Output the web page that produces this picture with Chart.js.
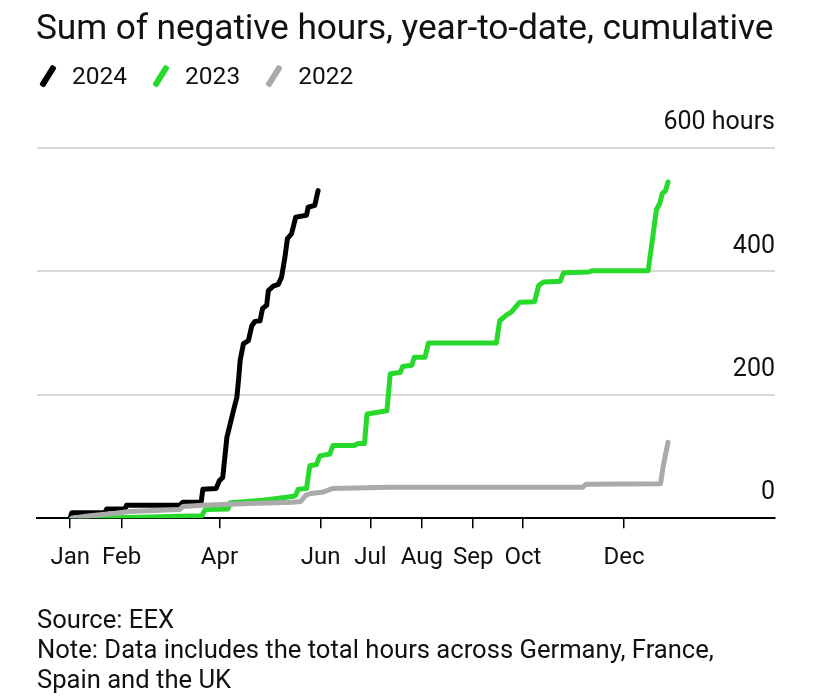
<!DOCTYPE html>
<html>
<head>
<meta charset="utf-8">
<script src="https://cdn.jsdelivr.net/npm/chart.js@4.4.1/dist/chart.umd.min.js"></script>
<style>
  html, body { margin: 0; padding: 0; background: #fff; }
  #wrap { position: relative; width: 816px; height: 700px; overflow: hidden; font-family: Roboto, "Liberation Sans", sans-serif; color: #111; }
  #chartBox { position: absolute; left: 0; top: 0; width: 816px; height: 700px; }
  #title { position: absolute; left: 36px; top: 6px; font-size: 35.3px; line-height: 42px; white-space: nowrap; letter-spacing: -0.1px; }
  #legend { position: absolute; left: 37px; top: 62px; display: flex; font-size: 24.5px; line-height: 28px; }
  .item { display: flex; align-items: center; margin-right: 23px; }
  .icon { width: 23px; height: 28px; position: relative; margin-right: 12px; }
  .icon span { position: absolute; left: 8px; top: 2px; width: 5.5px; height: 24px; border-radius: 2px; transform: rotate(32deg); }
  #footer { position: absolute; left: 37px; top: 604px; font-size: 25.6px; line-height: 30px; white-space: nowrap; }
</style>
</head>
<body>
<div id="wrap">
  <div id="chartBox"><canvas id="c"></canvas></div>
  <div id="title">Sum of negative hours, year-to-date, cumulative</div>
  <div id="legend"></div>
  <div id="footer">Source: EEX<br>Note: Data includes the total hours across Germany, France,<br>Spain and the UK</div>
</div>
<script>
// ---- data (day of year, cumulative negative hours) ----
const seriesNames = ['2024', '2023', '2022'];
const seriesColors = ['#000000', '#27d92b', '#aaaaaa'];

const days2024  = [0, 1, 21, 22, 33, 34, 66, 68, 79, 80, 88, 90, 92, 94.5, 96.5, 98.5, 100.5, 101.5, 102.5, 104.5, 107.5, 109.5, 111.5, 114.5, 116, 118.5, 119.5, 122.5, 125.5, 127.5, 129.5, 131, 133.5, 136, 142.5, 143.5, 147.5, 149.5];
const hours2024 = [0, 9, 9, 15, 15, 21, 21, 26, 26, 47, 48, 61, 66, 131, 153, 175, 196, 223, 256, 283, 288, 312, 319, 320, 340, 345, 369, 376, 379, 391, 423, 453, 461, 488, 491, 504, 507, 531];

const days2023  = [1, 36, 66, 79.5, 80.5, 81.5, 95, 96.5, 116, 134, 136, 137.5, 142.5, 144.5, 148.5, 150.5, 156.5, 158.5, 171.5, 173.5, 177.5, 179, 191, 193, 199, 200.5, 206, 207.5, 214, 216, 257, 259, 263, 266, 271, 280, 282.5, 285.5, 295.5, 297.5, 312.5, 314.5, 348.5, 350.5, 352.5, 353.5, 355.5, 357, 359, 360.5];
const hours2023 = [0, 1, 3, 4, 10, 14, 15, 25, 29, 35, 37, 47, 48, 85, 87, 101, 104, 118, 118, 121, 121, 169, 174, 234, 236, 246, 248, 261, 261, 284, 284, 320, 329, 334, 350, 351, 377, 383, 384, 398, 399, 401, 401, 440, 480, 500, 510, 526, 531, 545];

const days2022  = [1, 12, 27, 36, 66, 68, 80, 108, 134, 139, 142, 145, 152, 158, 193, 309, 311, 356, 357.5, 360.5];
const hours2022 = [0, 4, 8, 11, 14, 19, 21, 24, 26, 27, 37, 40, 42, 48, 50, 50, 55, 56, 83, 123];

const monthTickDays   = [0, 31, 90, 151, 181, 212, 243, 273, 334];
const monthTickLabels = ['Jan', 'Feb', 'Apr', 'Jun', 'Jul', 'Aug', 'Sep', 'Oct', 'Dec'];
const yTickValues = [0, 200, 400, 600];
const yTickLabels = ['0', '200', '400', '600 hours'];

// ---- build ----
function pts(d, h) { return d.map((x, i) => ({ x: x, y: h[i] })); }
const allDays = [days2024, days2023, days2022];
const allHours = [hours2024, hours2023, hours2022];

// legend (HTML)
const lg = document.getElementById('legend');
seriesNames.forEach((n, i) => {
  const it = document.createElement('div'); it.className = 'item';
  const ic = document.createElement('div'); ic.className = 'icon';
  const bar = document.createElement('span'); bar.style.background = seriesColors[i];
  ic.appendChild(bar);
  const tx = document.createElement('span'); tx.textContent = n;
  it.appendChild(ic); it.appendChild(tx); lg.appendChild(it);
});

const datasets = seriesNames.map((n, i) => ({
  label: n,
  data: pts(allDays[i], allHours[i]),
  borderColor: seriesColors[i],
  backgroundColor: seriesColors[i],
  borderWidth: 5,
  pointRadius: 0,
  tension: 0,
  fill: false,
  borderJoinStyle: 'round',
  borderCapStyle: 'round'
})).reverse();

new Chart(document.getElementById('c'), {
  type: 'line',
  data: { datasets: datasets },
  options: {
    responsive: true,
    maintainAspectRatio: false,
    animation: false,
    layout: { padding: { left: 37, right: 41, top: 148, bottom: 113 } },
    plugins: { legend: { display: false }, tooltip: { enabled: false }, title: { display: false } },
    scales: {
      x: {
        type: 'linear',
        min: -20,
        max: 425,
        afterBuildTicks: (s) => { s.ticks = monthTickDays.map(v => ({ value: v })); },
        ticks: {
          autoSkip: false,
          maxRotation: 0,
          padding: 15,
          color: '#111',
          font: { family: 'Roboto', size: 24 },
          callback: (v, i) => monthTickLabels[i]
        },
        grid: { drawOnChartArea: false, drawTicks: true, tickLength: 10, color: '#000', lineWidth: 1.5 },
        border: { display: true, color: '#000', width: 2 }
      },
      y: {
        position: 'right',
        min: 0,
        max: 600,
        afterBuildTicks: (s) => { s.ticks = yTickValues.map(v => ({ value: v })); },
        ticks: {
          mirror: true,
          padding: 0,
          labelOffset: -25,
          color: '#111',
          font: { family: 'Roboto', size: 25 },
          callback: (v, i) => yTickLabels[i]
        },
        grid: { drawTicks: false, color: (ctx) => ctx.tick && ctx.tick.value === 0 ? 'rgba(0,0,0,0)' : '#d9d9d9', lineWidth: 2 },
        border: { display: false }
      }
    }
  }
});
</script>
</body>
</html>
